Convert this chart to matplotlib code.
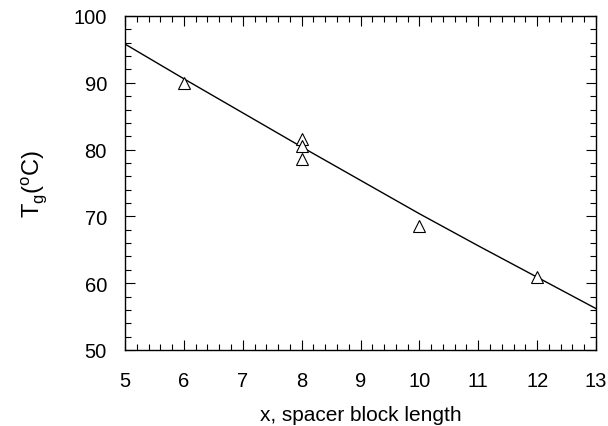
import matplotlib
matplotlib.use("Agg")
import matplotlib.pyplot as plt
from matplotlib.ticker import MultipleLocator

plt.rcParams['font.family'] = ['Liberation Sans', 'DejaVu Sans']

# measured data
x_data = [6, 8, 8, 8, 10, 12]
tg_data = [89.9, 81.6, 80.6, 78.6, 68.5, 61.0]

# fitted curve
x_fit = [5, 6, 7, 8, 9, 10, 11, 12, 13]
tg_fit = [95.8, 90.6, 85.5, 80.4, 75.4, 70.4, 65.6, 60.9, 56.2]

x_ticks = [5, 6, 7, 8, 9, 10, 11, 12, 13]
y_ticks = [50, 60, 70, 80, 90, 100]

fig = plt.figure(figsize=(6.08, 4.27), dpi=100)
ax = fig.add_axes([125/608, 1-351/427, (596-125)/608, (351-17)/427])

ax.plot(x_fit, tg_fit, color='black', lw=1.0)
ax.plot(x_data, tg_data, linestyle='none', marker='^', markersize=8,
        markerfacecolor='white', markeredgecolor='black', markeredgewidth=0.8)

ax.set_xlim(5, 13)
ax.set_ylim(50, 100)
ax.set_xticks(x_ticks)
ax.set_yticks(y_ticks)
ax.xaxis.set_minor_locator(MultipleLocator(0.2))
ax.yaxis.set_minor_locator(MultipleLocator(2))
ax.tick_params(which='both', direction='in', top=True, right=True, labelsize=14.5, width=0.8)
ax.tick_params(which='major', length=7.5)
ax.tick_params(which='minor', length=4)
ax.tick_params(axis='x', which='major', pad=15)
ax.tick_params(axis='y', which='major', pad=13)
for s in ax.spines.values():
    s.set_linewidth(1.0)

ax.set_xlabel('x, spacer block length', fontsize=15, labelpad=11)
ax.set_ylabel(r'T$_\mathregular{g}$($^\mathregular{o}$C)', fontsize=17, labelpad=18)

fig.savefig('out.png', dpi=100)
